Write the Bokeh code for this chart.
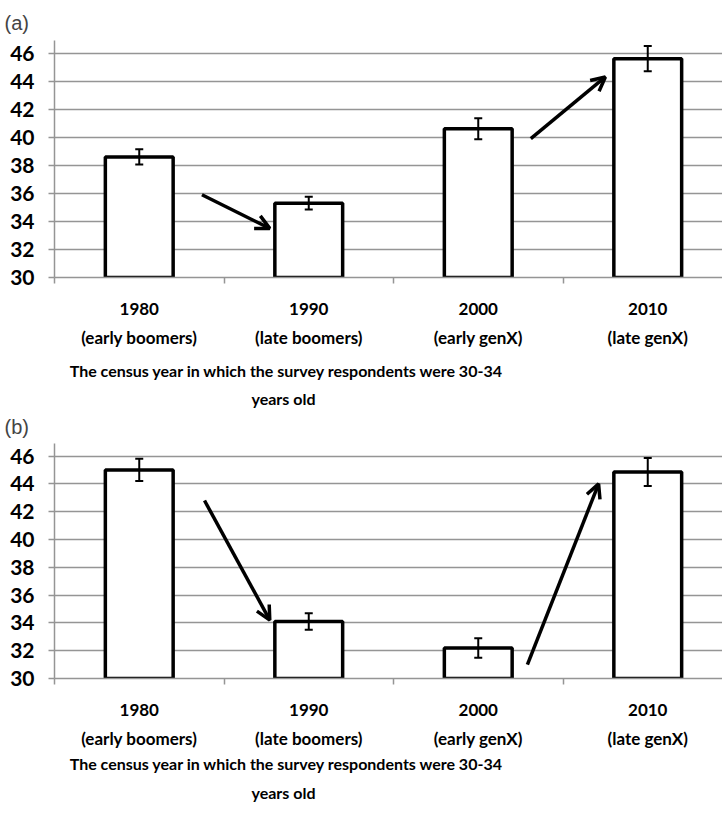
from bokeh.plotting import figure
from bokeh.models import (Range1d, FixedTicker, LinearAxis, Whisker, TeeHead,
                          Arrow, OpenHead, ColumnDataSource)
from bokeh.core.properties import value
from bokeh.layouts import column
from bokeh.embed import file_html
from bokeh.resources import INLINE

# ---- data ----
years = ["1980", "1990", "2000", "2010"]
generations = ["(early boomers)", "(late boomers)", "(early genX)", "(late genX)"]
y_ticks = [30, 32, 34, 36, 38, 40, 42, 44, 46]
x_title_lines = ["The census year in which the survey respondents were 30-34", "years old"]

a_values = [38.6, 35.3, 40.6, 45.6]
a_errors = [0.55, 0.45, 0.75, 0.9]
a_arrow_x0 = [0.37, 2.31]
a_arrow_y0 = [35.9, 39.9]
a_arrow_x1 = [0.77, 2.75]
a_arrow_y1 = [33.5, 44.3]

b_values = [45.0, 34.1, 32.2, 44.85]
b_errors = [0.8, 0.6, 0.7, 1.0]
b_arrow_x0 = [0.385, 2.29]
b_arrow_y0 = [42.8, 31.0]
b_arrow_x1 = [0.77, 2.71]
b_arrow_y1 = [34.2, 44.0]

FONT = "Lato"
GRAY = "#959595"
Y0, Y1 = 30, 46.9
X0, X1 = -0.5, 3.441
W = 722
LEFT = 54


def make_panel(tag, values, errors, ax0, ay0, ax1, ay1, top, bottom, tag_gap):
    xs = list(range(len(years)))
    p = figure(width=W, height=top + 237 + bottom, output_backend="svg",
               toolbar_location=None,
               x_range=Range1d(X0, X1), y_range=Range1d(Y0, Y1),
               min_border_left=LEFT, min_border_right=0, min_border_top=top,
               min_border_bottom=bottom)
    p.outline_line_color = None

    p.title.text = tag
    p.title.text_font = "Liberation Sans"
    p.title.text_font_style = "normal"
    p.title.text_font_size = "20px"
    p.title.offset = -50
    p.title.standoff = tag_gap

    p.xgrid.grid_line_color = None
    p.ygrid.ticker = FixedTicker(ticks=y_ticks)
    p.ygrid.grid_line_color = GRAY
    p.ygrid.grid_line_width = 1.5

    p.yaxis.ticker = FixedTicker(ticks=y_ticks)
    p.yaxis.axis_line_color = GRAY
    p.yaxis.axis_line_width = 1.5
    p.yaxis.major_tick_line_color = GRAY
    p.yaxis.major_tick_line_width = 1.5
    p.yaxis.major_tick_out = 6
    p.yaxis.major_tick_in = 0
    p.yaxis.minor_tick_line_color = None
    p.yaxis.major_label_standoff = 14
    p.yaxis.major_label_text_font = FONT
    p.yaxis.major_label_text_font_style = "bold"
    p.yaxis.major_label_text_font_size = "21px"
    p.yaxis.major_label_text_color = "black"

    p.xaxis.ticker = FixedTicker(ticks=xs, minor_ticks=[x - 0.5 for x in xs] + [xs[-1] + 0.5])
    p.xaxis.axis_line_color = GRAY
    p.xaxis.axis_line_width = 1.5
    p.xaxis.major_tick_out = 0
    p.xaxis.major_tick_in = 0
    p.xaxis.major_tick_line_color = None
    p.xaxis.minor_tick_line_color = GRAY
    p.xaxis.minor_tick_line_width = 1.5
    p.xaxis.minor_tick_out = 6
    p.xaxis.minor_tick_in = 0
    p.xaxis.major_label_overrides = {x: y for x, y in zip(xs, years)}
    p.xaxis.major_label_standoff = 19
    p.xaxis.major_label_text_font = FONT
    p.xaxis.major_label_text_font_style = "bold"
    p.xaxis.major_label_text_font_size = "17px"
    p.xaxis.major_label_text_color = "black"

    ax2 = LinearAxis(ticker=FixedTicker(ticks=xs, minor_ticks=[]))
    ax2.axis_line_color = None
    ax2.major_tick_line_color = None
    ax2.minor_tick_line_color = None
    ax2.major_label_overrides = {x: g for x, g in zip(xs, generations)}
    ax2.major_label_standoff = 3
    ax2.major_label_text_font = FONT
    ax2.major_label_text_font_style = "bold"
    ax2.major_label_text_font_size = "17px"
    ax2.major_label_text_color = "black"
    p.add_layout(ax2, "below")

    p.vbar(x=xs, width=0.4, bottom=Y0, top=values, fill_color="white",
           line_color="black", line_width=3.5)

    src = ColumnDataSource(dict(x=xs,
                                upper=[v + e for v, e in zip(values, errors)],
                                lower=[v - e for v, e in zip(values, errors)]))
    p.add_layout(Whisker(base="x", upper="upper", lower="lower", source=src,
                         line_color="black", line_width=2, level="annotation",
                         upper_head=TeeHead(size=8, line_width=2, line_color="black"),
                         lower_head=TeeHead(size=8, line_width=2, line_color="black")))

    asrc = ColumnDataSource(dict(x0=ax0, y0=ay0, x1=ax1, y1=ay1))
    p.add_layout(Arrow(x_start="x0", y_start="y0", x_end="x1", y_end="y1", source=asrc,
                       line_color="black", line_width=3.5,
                       end=OpenHead(size=14, line_width=3.5, line_color="black")))
    return p


def make_title(height, y_positions):
    t = figure(width=W, height=height, output_backend="svg", toolbar_location=None,
               x_range=Range1d(X0, X1), y_range=Range1d(height, 0),
               min_border_left=LEFT, min_border_right=0, min_border_top=0,
               min_border_bottom=0)
    t.axis.visible = False
    t.grid.grid_line_color = None
    t.outline_line_color = None
    t.text(x=[0.87, 0.851], y=y_positions, text=x_title_lines,
           text_align="center", text_baseline="middle", text_font=value(FONT),
           text_font_style="bold", text_font_size="16px", text_color="black")
    return t


pa = make_panel("(a)", a_values, a_errors, a_arrow_x0, a_arrow_y0, a_arrow_x1, a_arrow_y1, 40, 75, 13)
ta = make_title(56, [18, 46])
pb = make_panel("(b)", b_values, b_errors, b_arrow_x0, b_arrow_y0, b_arrow_x1, b_arrow_y1, 35, 71, 11)
tb = make_title(60, [12, 41])

layout = column(pa, ta, pb, tb, spacing=0)
open("out.html", "w").write(file_html(layout, INLINE))
